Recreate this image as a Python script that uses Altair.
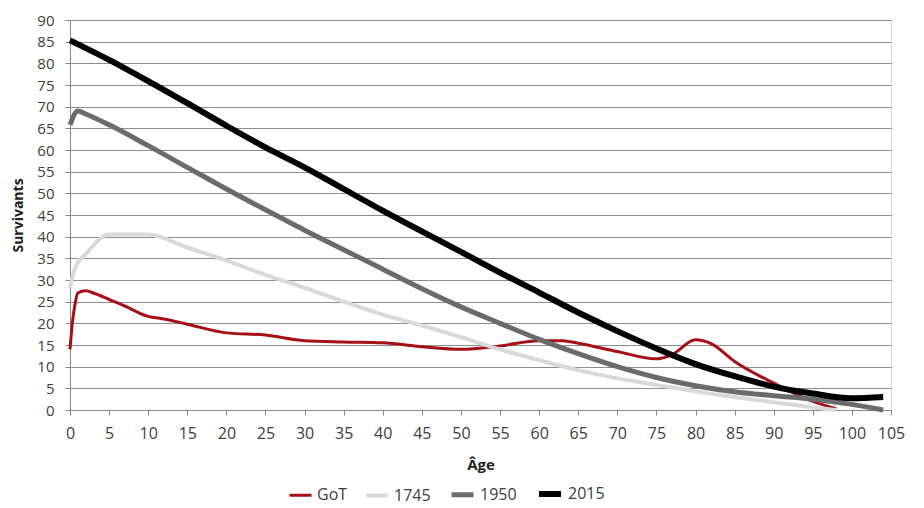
import altair as alt
import pandas as pd

series_names = ["GoT", "1745", "1950", "2015"]
series_colors = ["#a50f15", "#d9d9d9", "#6b6b6b", "#000000"]
series_widths = [3, 6, 6, 6]

ages_got = [0, 0.3, 0.7, 1, 2, 3, 5, 7, 10, 12, 15, 20, 25, 30, 35, 40, 45, 50, 55, 60, 63, 65, 70, 75, 77, 80, 82, 85, 90, 95, 98]
vals_got = [14, 20, 25, 27, 27.5, 27, 25.5, 24, 21.6, 21, 19.8, 17.8, 17.3, 16, 15.7, 15.5, 14.6, 14, 14.8, 16, 16, 15.4, 13.5, 11.8, 12.8, 16.2, 15.3, 11.2, 6.2, 2, 0.3]

ages_1745 = [0, 0.5, 1, 2, 5, 10, 15, 20, 25, 30, 35, 40, 45, 50, 55, 60, 65, 70, 75, 80, 85, 90, 95, 98]
vals_1745 = [28, 32, 34, 36, 40.5, 40.5, 37.5, 34.5, 31.2, 28.2, 25, 22, 19.5, 16.8, 14, 11.5, 9.2, 7.3, 5.8, 4.3, 3, 1.8, 0.6, 0]

ages_1950 = [0, 1, 2, 5, 10, 15, 20, 25, 30, 35, 40, 45, 50, 55, 60, 65, 70, 75, 80, 85, 90, 95, 100, 104]
vals_1950 = [65.8, 69, 68.3, 65.8, 61, 56, 51, 46.2, 41.5, 37, 32.5, 28, 23.8, 20, 16.3, 13, 10, 7.5, 5.6, 4.2, 3.3, 2.5, 1.3, 0]

ages_2015 = [0, 5, 10, 15, 20, 25, 30, 35, 40, 45, 50, 55, 60, 65, 70, 75, 80, 85, 90, 95, 100, 104]
vals_2015 = [85.3, 80.8, 75.9, 70.8, 65.6, 60.6, 56, 51, 46, 41.2, 36.5, 31.7, 27.1, 22.5, 18.2, 14.2, 10.6, 7.8, 5.4, 3.8, 2.7, 3]

rows = []
for name, ages, vals in [("GoT", ages_got, vals_got), ("1745", ages_1745, vals_1745),
                         ("1950", ages_1950, vals_1950), ("2015", ages_2015, vals_2015)]:
    for a, v in zip(ages, vals):
        rows.append({"series": name, "age": a, "val": v})
df = pd.DataFrame(rows)

FONT = "Open Sans"

color_scale = alt.Scale(domain=series_names, range=series_colors)
width_scale = alt.Scale(domain=series_names, range=series_widths)

legend_cfg = alt.Legend(title=None, orient="none", direction="horizontal",
                        legendX=218, legendY=460,
                        symbolType="stroke", symbolSize=484,
                        labelFontSize=16, labelFont=FONT, labelBaseline="middle",
                        labelColor="#404040", columnPadding=10, labelOffset=4)

layers = []
for i, name in enumerate(series_names):
    layers.append(
        alt.Chart(df[df.series == name]).mark_line(
            interpolate="monotone", strokeCap="butt", strokeJoin="round"
        ).encode(
            x=alt.X("age:Q", scale=alt.Scale(domain=[0, 105], nice=False),
                    axis=alt.Axis(title="Âge", values=list(range(0, 106, 5)), grid=False,
                                  domainColor="#868686", tickColor="#868686", tickSize=5,
                                  labelColor="#404040", labelFontSize=16, labelFont=FONT,
                                  labelPadding=10, labelFlush=False,
                                  titleFont=FONT, titleFontSize=15, titleFontWeight="bold",
                                  titleColor="#222222", titlePadding=16)),
            y=alt.Y("val:Q", scale=alt.Scale(domain=[0, 90], nice=False),
                    axis=alt.Axis(title="Survivants", values=list(range(0, 91, 5)), grid=True,
                                  gridColor="#8c8c8c", gridWidth=1,
                                  domainColor="#868686", tickColor="#868686", tickSize=5,
                                  labelColor="#404040", labelFontSize=15, labelFont=FONT,
                                  labelPadding=11,
                                  titleFont=FONT, titleFontSize=14, titleFontWeight="bold",
                                  titleColor="#222222", titlePadding=11)),
            color=alt.Color("series:N", scale=color_scale, sort=series_names, legend=legend_cfg),
            strokeWidth=alt.StrokeWidth("series:N", scale=width_scale, sort=series_names, legend=legend_cfg),
            order="age:Q",
        )
    )

chart = alt.layer(*layers).properties(
    width=821, height=390,
    autosize=alt.AutoSizeParams(type="none"),
    padding={"left": 70, "top": 20, "right": 33, "bottom": 98},
).configure_view(stroke=None).configure(background="white")

chart.save("out.html", embed_options={"renderer": "svg", "actions": False})
